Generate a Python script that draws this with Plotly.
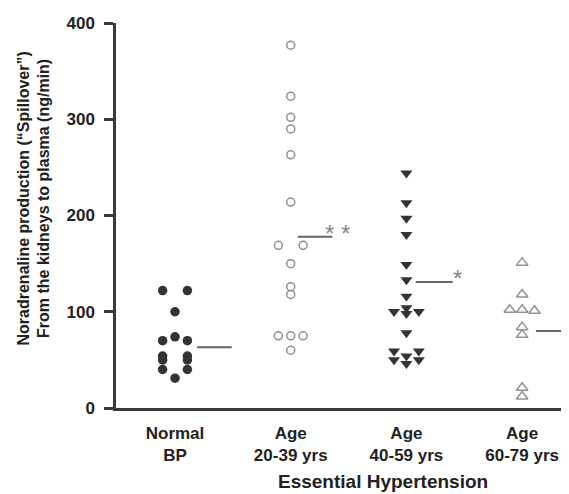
import plotly.graph_objects as go

# ---------------- data ----------------
group_labels = ["Normal<br>BP", "Age<br>20-39 yrs", "Age<br>40-59 yrs", "Age<br>60-79 yrs"]

normal_vals = [122, 122, 100, 74, 70, 70, 54, 54, 50, 50, 40, 40, 31]
normal_slot = [-1, 1, 0, 0, -1, 1, -1, 1, -1, 1, -1, 1, 0]

age20_vals = [377, 324, 302, 290, 263, 214, 169, 169, 150, 126, 118, 75, 75, 75, 60]
age20_slot = [0, 0, 0, 0, 0, 0, -1, 1, 0, 0, 0, -1, 0, 1, 0]

age40_vals = [244, 213, 197, 180, 149, 133, 116, 100, 104, 98, 100, 78, 59, 54, 59, 50, 46, 50]
age40_slot = [0, 0, 0, 0, 0, 0, 0, -1, 0, 0, 1, 0, -1, 0, 1, -1, 0, 1]

age60_vals = [151, 118, 102, 102, 101, 84, 76, 21, 12]
age60_slot = [0, 0, -1, 0, 1, 0, 0, 0, 0]

group_means = [63, 178, 131, 80]
significance = ["", "**", "*", ""]

y_ticks = [0, 100, 200, 300, 400]

# ---------------- style ----------------
FONT = "Liberation Sans"
SLOT_W = 0.107
LINE_START = [0.19, 0.06, 0.08, 0.12]
LINE_END = [0.49, 0.36, 0.40, 0.42]

groups = [
    (normal_vals, normal_slot, dict(symbol="circle", size=9.5, color="#333333")),
    (age20_vals, age20_slot, dict(symbol="circle-open", size=8, color="#8f8f8f",
                                  line=dict(width=1.5, color="#8f8f8f"))),
    (age40_vals, age40_slot, dict(symbol="triangle-down", size=10.5, color="#333333")),
    (age60_vals, age60_slot, dict(symbol="triangle-up-open", size=10, color="#929292",
                                  line=dict(width=1.5, color="#929292"))),
]

fig = go.Figure()
for i, (vals, slots, marker) in enumerate(groups):
    pos = i + 1
    fig.add_trace(go.Scatter(
        x=[pos + s * SLOT_W for s in slots], y=vals, mode="markers",
        marker=marker, showlegend=False, hoverinfo="y"))
    fig.add_trace(go.Scatter(
        x=[pos + LINE_START[i], pos + LINE_END[i]],
        y=[group_means[i], group_means[i]], mode="lines",
        line=dict(color="#666666", width=2), showlegend=False, hoverinfo="skip"))
    if significance[i]:
        fig.add_annotation(x=pos + LINE_END[i] + 0.04, y=group_means[i] + 10,
                           text=" ".join(significance[i]), showarrow=False,
                           xanchor="center", yanchor="middle", yshift=-6,
                           font=dict(family=FONT, size=24, color="#888888"))

fig.add_annotation(xref="paper", yref="paper", x=-0.182, y=0.543,
                   text="Noradrenaline production (“Spillover”)<br>From the kidneys to plasma (ng/min)",
                   textangle=-90, showarrow=False, xanchor="center", yanchor="middle",
                   font=dict(family=FONT, size=16, color="#222222", weight="bold"))
fig.add_annotation(xref="paper", yref="paper", x=0.589, y=-0.192,
                   text="Essential Hypertension", showarrow=False,
                   xanchor="center", yanchor="middle",
                   font=dict(family=FONT, size=19, color="#222222", weight="bold"))

# the page has an 8px body margin, so the figure is sized to fit the window
fig.update_layout(
    width=561, height=486,
    margin=dict(l=108, r=0, t=15, b=86),
    paper_bgcolor="white", plot_bgcolor="white",
    font=dict(family=FONT, color="#222222"),
    xaxis=dict(range=[0.49, 4.405], tickvals=[1, 2, 3, 4], ticktext=group_labels,
               showgrid=False, zeroline=False, showline=True, linecolor="#3a3a3a",
               linewidth=2.5, ticks="", ticklabelstandoff=8,
               tickfont=dict(family=FONT, size=17, color="#222222", weight="bold")),
    yaxis=dict(range=[0, 400], tickvals=y_ticks, showgrid=False, zeroline=False,
               showline=True, linecolor="#3a3a3a", linewidth=2.5,
               ticks="outside", ticklen=9, tickwidth=2.5, tickcolor="#3a3a3a",
               ticklabelstandoff=6,
               tickfont=dict(family=FONT, size=17, color="#222222", weight="bold")),
)

fig.write_html("out.html")
